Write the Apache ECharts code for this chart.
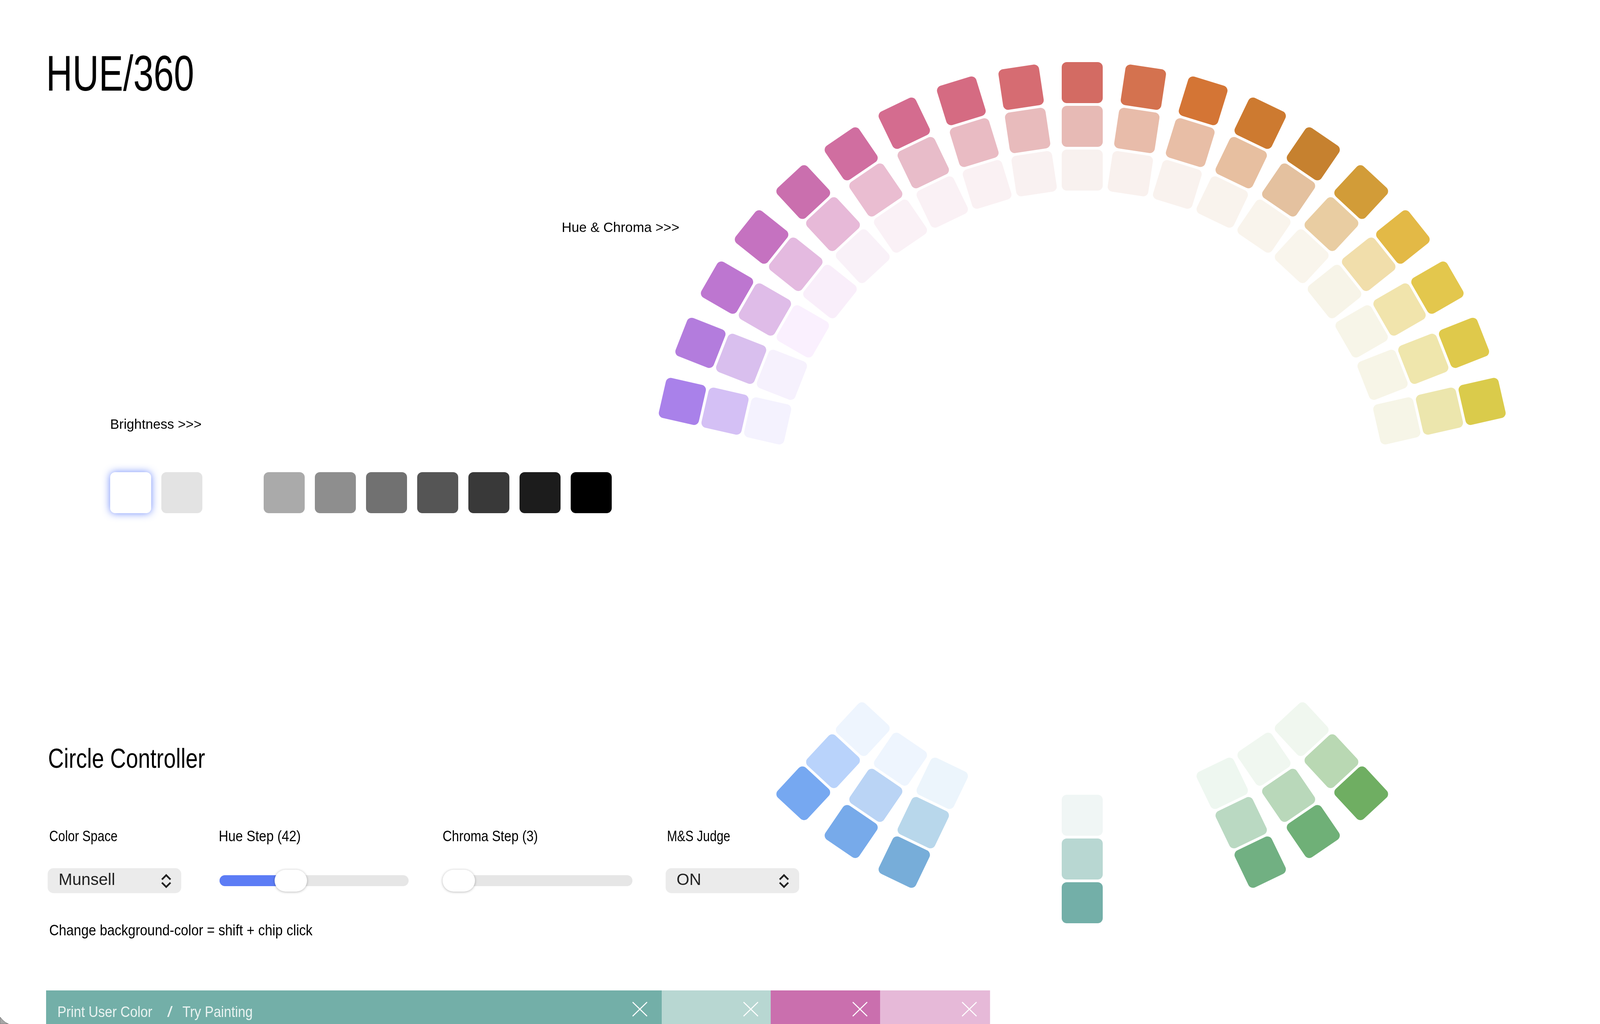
<!DOCTYPE html>
<html>
<head>
<meta charset="utf-8">
<title>HUE/360</title>
<style>html,body{margin:0;padding:0;background:#fff}#c{width:4147px;height:2622px}</style>
<script src="https://cdn.jsdelivr.net/npm/echarts@6/dist/echarts.min.js"></script>
</head>
<body>
<div id="c"></div>
<script>
// ---- data ----
const hueSteps = 42;
const hueIndex = [33,34,35,36,37,38,39,40,41,0,1,2,3,4,5,6,7,8,9,16,17,18,21,24,25,26];
const outerColors = ['#A981EA','#B37CDD','#BD76D0','#C572C0','#CA6FAE','#D06EA0','#D46C8F','#D56B82','#D66C72','#D36B63','#D4724F','#D47535','#CD7A30','#C6812F','#D29C38','#E3B946','#E3C74D','#DFC94B','#DACB4B','#6FAE62','#6FB077','#71B082','#73AFA8','#77ADD9','#77AAEA','#76A8F1'];
const middleColors = ['#D4C0F5','#D9BFEE','#DFBCE8','#E4BAE0','#E7B9D8','#EABDD1','#E8BCC9','#E9BBC3','#E8BBBC','#E7BAB5','#E8BCAA','#E8BEA6','#E7BFA0','#E4C19F','#E9CDA2','#F1DEAB','#F1E4AC','#EFE6AC','#ECE6AD','#B9D8B3','#B9D8BA','#BAD9C2','#B8D7D2','#B8D7EB','#BAD4F5','#B9D3FB'];
const innerColors = ['#F4F2FE','#F6F1FD','#FAF0FE','#F9EEFA','#F9F1F8','#FAF1F6','#FAF1F5','#FAF1F3','#F9F1F1','#F8F1EF','#F9F1EE','#F9F2EE','#F9F3ED','#F9F4EC','#F9F5EC','#F7F4E8','#F7F5E8','#F7F5E7','#F6F5E7','#F0F7EF','#F0F7F0','#EEF7F0','#F0F6F5','#ECF5FC','#EEF5FE','#EEF5FE'];
const brightness = [255,227,null,170,142,113,85,57,28,0];
const userColors = ['#73AFA8','#B8D7D2','#CA6FAE','#E6B9D8'];
const controlLabels = ['Color Space','Hue Step (42)','Chroma Step (3)','M&S Judge'];
const hueStepValue = 42, chromaStepValue = 3;

// ---- chip tables ----
const ringColors = [innerColors, middleColors, outerColors];
const chipTable = [];
ringColors.forEach((cols, r) => hueIndex.forEach((h, i) => chipTable.push({ring:r+1, hue:h, color:cols[i]})));
const greyTable = brightness.map((b,i)=> b===null ? null : {step:i, level:b}).filter(Boolean);

// ---- text helper ----
const mctx = document.createElement('canvas').getContext('2d');
const NARROW = '"Liberation Sans Narrow","Liberation Sans",sans-serif';
const SANS = '"Liberation Sans",Arial,sans-serif';
function T(text, x, baseline, size, width, fill, family) {
  const font = size + 'px ' + (family || NARROW);
  mctx.font = font;
  const sx = width ? width / mctx.measureText(text).width : 1;
  return {type:'text', x:x, y:baseline - 0.3465*size, scaleX:sx, originX:0, silent:true,
    style:{text:text, font:font, fill:fill||'#000', textAlign:'left', verticalAlign:'middle'}};
}
function R(x,y,w,h,fill,r,extra){
  return {type:'rect', silent:true, shape:{x:x,y:y,width:w,height:h,r:r||0}, style:Object.assign({fill:fill},extra||{})};
}
function L(pts,color,w){
  return {type:'polyline', silent:true, shape:{points:pts}, style:{stroke:color,lineWidth:w,fill:'none',lineJoin:'miter',lineCap:'butt'}};
}
function chevrons(cx){
  return [L([[cx-11,2252],[cx,2241],[cx+11,2252]],'#222',4.5), L([[cx-11,2260],[cx,2271],[cx+11,2260]],'#222',4.5)];
}
function cross(cx){
  return [L([[cx-18.5,2566],[cx+18.5,2602]],'#fff',2.5), L([[cx+18.5,2566],[cx-18.5,2602]],'#fff',2.5)];
}

const barEdges = [118,1694,1973,2253.5,2534.5];
const crossX = [1638,1922,2201.5,2481.5];
const graphics = [
  T('HUE/360',118,241,128,379),
  T('Brightness >>>',282,1100,34.5,234,'#000',SANS),
  T('Hue & Chroma >>>',1438,596,34.5,301,'#000',SANS),
  T('Circle Controller',123,1970.5,70,402),
  T(controlLabels[0],126,2157,39,175),
  T(controlLabels[1],560,2157,39,210),
  T(controlLabels[2],1133,2157,39,244),
  T(controlLabels[3],1707.5,2157,39,162),
  // selects
  R(122,2223,342,64,'#EBEBEB',15),
  T('Munsell',150,2268.5,42,null,'#222',SANS),
  ...chevrons(425.5),
  R(1704,2223,342,64,'#EBEBEB',15),
  T('ON',1732,2268.5,42,null,'#222',SANS),
  ...chevrons(2007),
  // sliders
  R(562,2241,484,28,'#E6E6E6',14),
  R(562,2241,160,28,'#5C7CF5',14),
  R(703,2227,83,56,'#fff',28,{shadowBlur:6,shadowColor:'rgba(0,0,0,0.3)',shadowOffsetY:1}),
  R(1134,2241,485,28,'#E6E6E6',14),
  R(1133,2227,83,56,'#fff',28,{shadowBlur:6,shadowColor:'rgba(0,0,0,0.3)',shadowOffsetY:1}),
  T('Change background-color = shift + chip click',126,2397.5,39,674),
  // user colour bar
  ...userColors.map((c,i)=>R(barEdges[i],2536,barEdges[i+1]-barEdges[i],86,c)),
  T('Print User Color',147,2607,39,243,'#EAF3F1'),
  T('/',428,2607,39,14,'#EAF3F1'),
  T('Try Painting',467,2607,39,180,'#EAF3F1'),
  ...crossX.flatMap(cross),
  // window corner
  {type:'polygon', silent:true, shape:{points:[[0,2604],[7,2612],[14,2618],[22,2622],[0,2622]]}, style:{fill:'#A6A6A6',stroke:'#666',lineWidth:1}}
];

const CHIP = 105, CHIP_R = 13;
const chart = echarts.init(document.getElementById('c'), null, {width:4147,height:2622});
chart.setOption({
  backgroundColor:'#fff',
  animation:false,
  tooltip:{show:false},
  polar:{center:[2770.5,1261.5], radius:[0,1050]},
  angleAxis:{type:'value', min:0, max:hueSteps, startAngle:90, clockwise:true, show:false},
  radiusAxis:{type:'value', min:-6.375, max:3, show:false},
  grid:{left:334.5, width:1179, top:1209, height:105},
  xAxis:{type:'value', min:0, max:9, show:false},
  yAxis:{type:'value', min:0, max:1, show:false},
  graphic:{elements:graphics},
  series:[
    {type:'custom', coordinateSystem:'polar', silent:true, clip:false,
      data:chipTable.map(c=>[c.ring,c.hue]),
      renderItem(params, api){
        const p = api.coord([api.value(0), api.value(1)]);
        const c = chipTable[params.dataIndex];
        return {type:'rect', x:p[0], y:p[1], rotation:-c.hue/hueSteps*2*Math.PI,
          shape:{x:-CHIP/2,y:-CHIP/2,width:CHIP,height:CHIP,r:CHIP_R}, style:{fill:c.color}};
      }},
    {type:'custom', coordinateSystem:'cartesian2d', silent:true, clip:false,
      data:greyTable.map(g=>[g.step,0.5,g.level]),
      renderItem(params, api){
        const p = api.coord([api.value(0), api.value(1)]);
        const v = api.value(2);
        const style = {fill:`rgb(${v},${v},${v})`};
        if (v===255){ style.shadowBlur=20; style.shadowColor='rgba(84,116,250,0.85)'; }
        return {type:'rect', x:p[0], y:p[1],
          shape:{x:-CHIP/2,y:-CHIP/2,width:CHIP,height:CHIP,r:CHIP_R}, style:style};
      }}
  ]
});
</script>
</body>
</html>
